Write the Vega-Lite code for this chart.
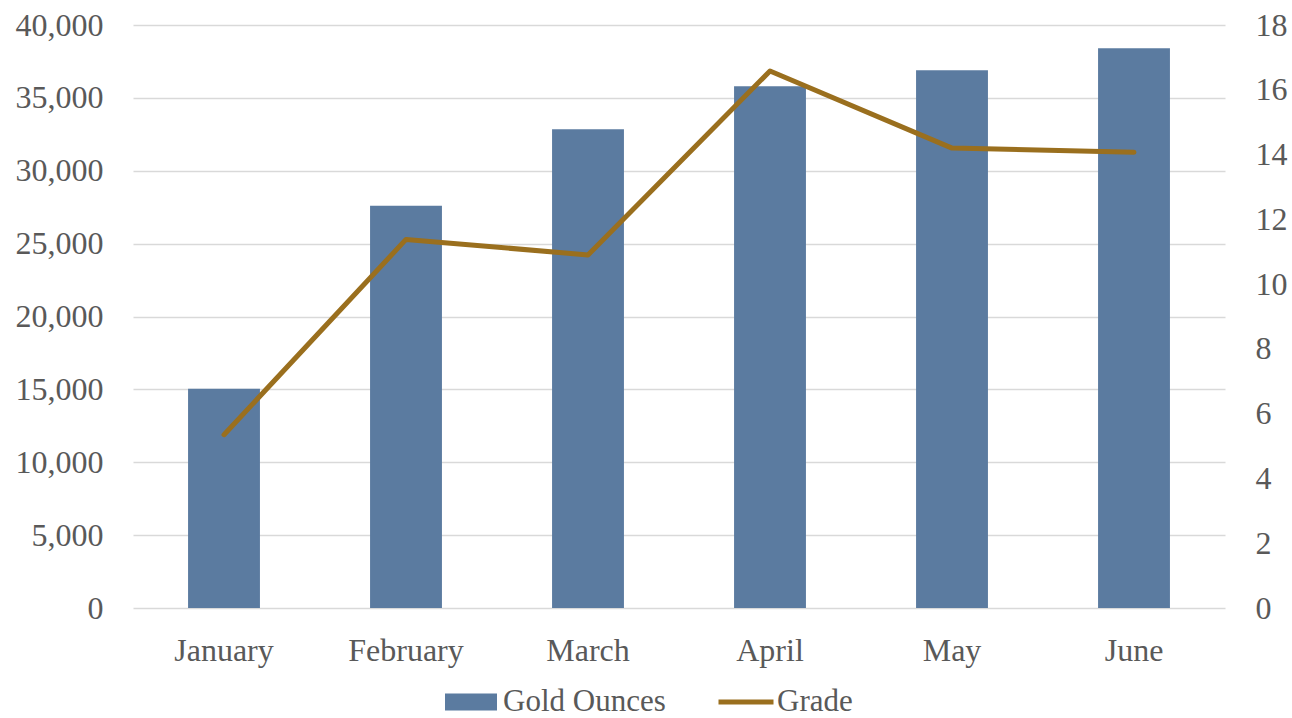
{
  "$schema": "https://vega.github.io/schema/vega-lite/v6.json",
  "autosize": {"type": "none"},
  "padding": {"left": 133, "top": 25, "right": 67, "bottom": 110},
  "width": 1092,
  "height": 583,
  "background": "white",
  "config": {
    "view": {"stroke": null},
    "font": "Liberation Serif",
    "axis": {"labelFont": "Liberation Serif", "labelFontSize": 32, "labelColor": "#595959", "domain": false, "ticks": false, "title": null},
    "legend": {"labelFont": "Liberation Serif", "labelFontSize": 31, "labelColor": "#595959", "padding": 0, "labelLimit": 400}
  },
  "data": {
    "values": [
      {"month": "January", "ounces": 15050, "grade": 5.35},
      {"month": "February", "ounces": 27600, "grade": 11.38},
      {"month": "March", "ounces": 32850, "grade": 10.9},
      {"month": "April", "ounces": 35800, "grade": 16.58},
      {"month": "May", "ounces": 36900, "grade": 14.2},
      {"month": "June", "ounces": 38400, "grade": 14.07}
    ]
  },
  "encoding": {
    "x": {
      "field": "month",
      "type": "nominal",
      "sort": null,
      "scale": {"paddingInner": 0.605, "paddingOuter": 0.3025},
      "axis": {"labelAngle": 0, "labelPadding": 27, "grid": false}
    }
  },
  "layer": [
    {
      "mark": {"type": "bar"},
      "encoding": {
        "y": {
          "field": "ounces",
          "type": "quantitative",
          "scale": {"domain": [0, 40000], "nice": false},
          "axis": {"orient": "left", "values": [0, 5000, 10000, 15000, 20000, 25000, 30000, 35000, 40000], "format": ",.0f", "labelPadding": 30, "grid": true, "gridColor": "#D9D9D9", "gridWidth": 1.5}
        },
        "color": {
          "datum": "Gold Ounces",
          "type": "nominal",
          "scale": {"range": ["#5B7BA0"]},
          "legend": {"title": null, "orient": "none", "legendX": 312, "legendY": 651, "symbolType": "M-1,-0.33H1V0.33H-1Z", "symbolSize": 2704, "symbolStrokeWidth": 0, "labelOffset": 6}
        }
      }
    },
    {
      "mark": {"type": "line", "strokeWidth": 5, "strokeCap": "round", "strokeJoin": "round"},
      "encoding": {
        "y": {
          "field": "grade",
          "type": "quantitative",
          "scale": {"domain": [0, 18], "nice": false},
          "axis": {"orient": "right", "values": [0, 2, 4, 6, 8, 10, 12, 14, 16, 18], "labelPadding": 30, "grid": false}
        },
        "stroke": {
          "datum": "Grade",
          "type": "nominal",
          "scale": {"range": ["#9A6F1E"]},
          "legend": {"title": null, "orient": "none", "legendX": 583, "legendY": 647, "symbolType": "stroke", "symbolSize": 3025, "symbolStrokeWidth": 5, "labelOffset": 1}
        }
      }
    }
  ],
  "resolve": {"scale": {"y": "independent"}}
}
